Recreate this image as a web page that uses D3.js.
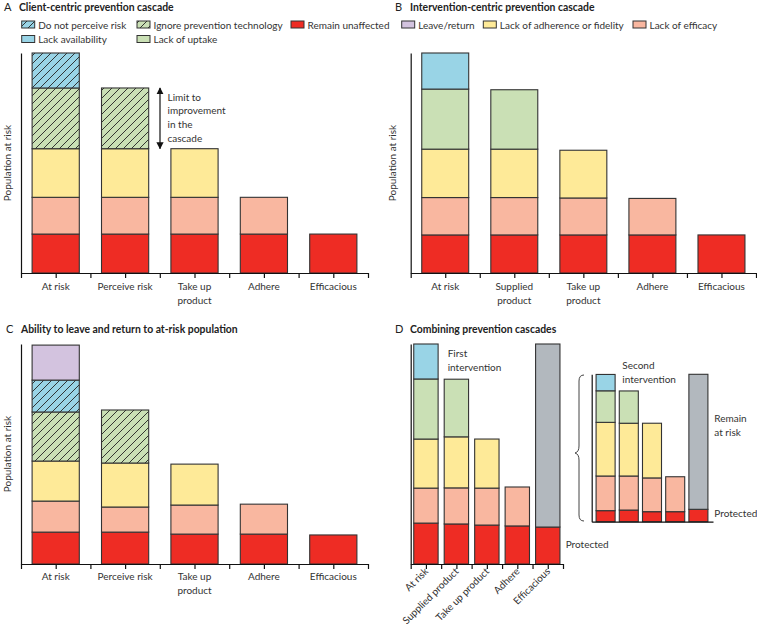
<!DOCTYPE html>
<html>
<head>
<meta charset="utf-8">
<script src="https://cdn.jsdelivr.net/npm/d3@7"></script>
<style>
body { margin: 0; background: #fff; }
svg { font-family: Lato, "Open Sans", sans-serif; }
</style>
</head>
<body>
<div id="chart"></div>
<script>
// categories
var catsA = ["At risk", "Perceive risk", "Take up\nproduct", "Adhere", "Efficacious"]
var catsB = ["At risk", "Supplied\nproduct", "Take up\nproduct", "Adhere", "Efficacious"]
var catsD = ["At risk", "Supplied product", "Take up product", "Adhere", "Efficacious"]

// legend
var legendRow1 = ["Do not perceive risk", "Ignore prevention technology", "Remain unaffected", "Leave/return", "Lack of adherence or fidelity", "Lack of efficacy"]
var legendKeys1 = ["perceive", "ignore", "unaffected", "leave", "adherence", "efficacy"]
var legendRow2 = ["Lack availability", "Lack of uptake"]
var legendKeys2 = ["availability", "uptake"]

// A: client-centric (bottom to top)
var aUnaffected = [17.7, 17.7, 17.7, 17.7, 17.7]
var aEfficacy   = [16.7, 16.7, 16.7, 16.7, 0]
var aAdherence  = [22.1, 22.1, 22.1, 0, 0]
var aIgnore     = [27.6, 27.6, 0, 0, 0]
var aPerceive   = [15.9, 0, 0, 0, 0]

// B: intervention-centric
var bUnaffected   = [17.3, 17.3, 17.3, 17.3, 17.3]
var bEfficacy     = [17.0, 17.0, 16.8, 16.6, 0]
var bAdherence    = [22.0, 22.0, 21.7, 0, 0]
var bUptake       = [27.3, 27.0, 0, 0, 0]
var bAvailability = [16.4, 0, 0, 0, 0]

// C: leave and return
var cUnaffected = [14.5, 14.5, 13.6, 13.6, 13.2]
var cEfficacy   = [14.1, 11.4, 13.2, 13.6, 0]
var cAdherence  = [18.2, 20.0, 18.6, 0, 0]
var cIgnore     = [22.3, 24.1, 0, 0, 0]
var cPerceive   = [14.5, 0, 0, 0, 0]
var cLeave      = [15.9, 0, 0, 0, 0]

// D: first intervention
var dUnaffected   = [18.6, 18.2, 17.7, 17.3, 16.8]
var dEfficacy     = [15.9, 16.4, 16.8, 17.7, 0]
var dAdherence    = [22.3, 23.2, 22.3, 0, 0]
var dUptake       = [27.3, 26.2, 0, 0, 0]
var dAvailability = [15.9, 0, 0, 0, 0]
var dRemain       = [0, 0, 0, 0, 83.2]

// D: second intervention (inset)
var eUnaffected   = [7.5, 7.9, 6.8, 6.8, 8.4]
var eEfficacy     = [23.5, 23.1, 22.9, 23.7, 0]
var eAdherence    = [36.4, 35.8, 37.1, 0, 0]
var eUptake       = [21.4, 21.9, 0, 0, 0]
var eAvailability = [11.1, 0, 0, 0, 0]
var eRemain       = [0, 0, 0, 0, 91.6]

var ink = "#333"
var fills = {
    unaffected: "#ee2c24",
    efficacy: "#f9b7a0",
    adherence: "#feea98",
    uptake: "#cae0b5",
    availability: "#99d4e6",
    ignore: "url(#hatchGreen)",
    perceive: "url(#hatchBlue)",
    leave: "#d3c3df",
    remain: "#b2b8be"
}

var svg = d3.select("#chart")
    .append("svg")
        .attr("width", 757)
        .attr("height", 629)

// hatch patterns
var defs = svg.append("defs")
function hatch(id, color) {
    var p = defs.append("pattern")
        .attr("id", id)
        .attr("patternUnits", "userSpaceOnUse")
        .attr("width", 8)
        .attr("height", 8)
    p.append("rect").attr("width", 8).attr("height", 8).attr("fill", color)
    p.append("path")
        .attr("d", "M-2,2 L2,-2 M0,8 L8,0 M6,10 L10,6")
        .attr("stroke", "#222")
        .attr("stroke-width", 0.9)
}
hatch("hatchGreen", "#cae0b5")
hatch("hatchBlue", "#99d4e6")

// stacked bars
function bars(o) {
    var x = d3.scaleBand()
        .domain(o.cats)
        .range(o.xr)
        .paddingInner(o.pad)
        .paddingOuter(o.pad / 2)
    var y = d3.scaleLinear()
        .domain([0, 100])
        .range(o.yr)
    var keys = Object.keys(o.series)
    var rows = o.cats.map(function(c, i) {
        var r = { cat: c }
        keys.forEach(function(k) { r[k] = o.series[k][i] })
        return r
    })
    var layers = d3.stack().keys(keys)(rows)
    var g = svg.append("g")
    layers.forEach(function(layer) {
        g.selectAll(null)
            .data(layer.filter(function(d) { return d[1] - d[0] > 0 }))
            .enter()
            .append("rect")
                .attr("x", function(d) { return x(d.data.cat) })
                .attr("y", function(d) { return y(d[1]) })
                .attr("width", x.bandwidth())
                .attr("height", function(d) { return y(d[0]) - y(d[1]) })
                .attr("fill", fills[layer.key])
                .attr("stroke", ink)
                .attr("stroke-width", 1.1)
    })
    return { x: x, y: y }
}

// axes: y line, x line with ticks at band edges
function axes(o, ticks) {
    var yAx = d3.axisLeft(d3.scaleLinear().range(o.yr)).tickValues([]).tickSizeOuter(0)
    svg.append("g")
        .attr("transform", "translate(" + o.axX[0] + ",0)")
        .call(yAx)
    var xb = d3.scaleLinear().domain([0, 5]).range(o.axX)
    var xAx = d3.axisBottom(xb).tickFormat("").tickSizeOuter(0).tickSizeInner(5)
    if (!ticks) xAx.tickValues([])
    svg.append("g")
        .attr("transform", "translate(0," + o.yr[0] + ")")
        .call(xAx)
    svg.selectAll(".domain, .tick line").attr("stroke", "#111").attr("stroke-width", 1.2)
}

function tickLabels(x, yBase) {
    x.domain().forEach(function(c) {
        var t = svg.append("text")
            .attr("x", x(c) + x.bandwidth() / 2)
            .attr("y", yBase)
            .attr("text-anchor", "middle")
            .attr("font-size", "10px")
            .attr("fill", ink)
        c.split("\n").forEach(function(line, i) {
            t.append("tspan")
                .attr("x", x(c) + x.bandwidth() / 2)
                .attr("dy", i == 0 ? 0 : 13.7)
                .text(line)
        })
    })
}

function yLabel(xPos, yMid) {
    svg.append("text")
        .attr("transform", "rotate(-90)")
        .attr("x", -yMid)
        .attr("y", xPos)
        .attr("text-anchor", "middle")
        .attr("font-size", "10px")
        .attr("fill", ink)
        .text("Population at risk")
}

function title(letter, text, xL, xT, yB) {
    svg.append("text").attr("x", xL).attr("y", yB).attr("font-size", "11px").attr("fill", "#222").text(letter)
    svg.append("text").attr("x", xT).attr("y", yB).attr("font-size", "10.4px").attr("font-weight", "bold").attr("fill", "#222").text(text)
}

function lines(arr, xPos, yB) {
    var t = svg.append("text").attr("font-size", "10px").attr("fill", ink)
    arr.forEach(function(s, i) {
        t.append("tspan").attr("x", xPos).attr("y", yB + i * 13.7).text(s)
    })
}

// titles
title("A", "Client-centric prevention cascade", 4, 19, 11)
title("B", "Intervention-centric prevention cascade", 395, 410, 11)
title("C", "Ability to leave and return to at-risk population", 6, 21, 332.5)
title("D", "Combining prevention cascades", 395, 410, 332.5)

// legend
var legendX1 = [21.7, 137, 291, 401.7, 483.3, 633]
var legendX2 = [21.7, 137]
function legendItem(xPos, yTop, key, label) {
    svg.append("rect")
        .attr("x", xPos).attr("y", yTop).attr("width", 13).attr("height", 7)
        .attr("fill", fills[key]).attr("stroke", ink).attr("stroke-width", 1)
    svg.append("text")
        .attr("x", xPos + 16.5).attr("y", yTop + 7.5)
        .attr("font-size", "10px").attr("fill", ink)
        .text(label)
}
legendRow1.forEach(function(l, i) { legendItem(legendX1[i], 21, legendKeys1[i], l) })
legendRow2.forEach(function(l, i) { legendItem(legendX2[i], 35.5, legendKeys2[i], l) })

// panel A
var optA = { cats: catsA, xr: [21, 368], axX: [21, 368], yr: [273, 53], pad: 0.32,
    series: { unaffected: aUnaffected, efficacy: aEfficacy, adherence: aAdherence, ignore: aIgnore, perceive: aPerceive } }
var pA = bars(optA)
axes(optA, true)
tickLabels(pA.x, 290)
yLabel(10.5, 163)

// limit arrow
svg.append("defs").append("marker")
    .attr("id", "head").attr("viewBox", "0 0 10 10").attr("refX", 9).attr("refY", 5)
    .attr("markerWidth", 6).attr("markerHeight", 6).attr("orient", "auto-start-reverse")
    .append("path").attr("d", "M0,0 L10,5 L0,10 Z").attr("fill", "#111")
svg.append("line")
    .attr("x1", pA.x.range()[0] + 139).attr("x2", pA.x.range()[0] + 139)
    .attr("y1", pA.y(aUnaffected[1] + aEfficacy[1] + aAdherence[1] + aIgnore[1]))
    .attr("y2", pA.y(aUnaffected[1] + aEfficacy[1] + aAdherence[1]))
    .attr("stroke", "#111").attr("stroke-width", 1.2)
    .attr("marker-start", "url(#head)").attr("marker-end", "url(#head)")
lines(["Limit to", "improvement", "in the", "cascade"], 167.5, 100.7)

// panel B
var optB = { cats: catsB, xr: [410.7, 756], axX: [410.7, 756], yr: [273, 53], pad: 0.32,
    series: { unaffected: bUnaffected, efficacy: bEfficacy, adherence: bAdherence, uptake: bUptake, availability: bAvailability } }
var pB = bars(optB)
axes(optB, true)
tickLabels(pB.x, 290)
yLabel(396, 163)

// panel C
var optC = { cats: catsA, xr: [21, 368], axX: [21, 368], yr: [564, 344], pad: 0.32,
    series: { unaffected: cUnaffected, efficacy: cEfficacy, adherence: cAdherence, ignore: cIgnore, perceive: cPerceive, leave: cLeave } }
var pC = bars(optC)
axes(optC, true)
tickLabels(pC.x, 580)
yLabel(10.5, 454)

// panel D main
var optD = { cats: catsD, xr: [410.7, 563], axX: [410.7, 563], yr: [564, 344], pad: 0.2,
    series: { unaffected: dUnaffected, efficacy: dEfficacy, adherence: dAdherence, uptake: dUptake, availability: dAvailability, remain: dRemain } }
var pD = bars(optD)
axes(optD, true)
catsD.forEach(function(c) {
    svg.append("text")
        .attr("transform", "translate(" + (pD.x(c) + pD.x.bandwidth() / 2 + 3) + ",572) rotate(-45)")
        .attr("text-anchor", "end")
        .attr("font-size", "10px")
        .attr("fill", ink)
        .text(c)
})
lines(["First", "intervention"], 447.7, 357.3)
lines(["Protected"], 565.7, 548.3)

// panel D inset
var optE = { cats: catsD, xr: [594, 710], axX: [591.7, 713], yr: [521.7, 374.3], pad: 0.18,
    series: { unaffected: eUnaffected, efficacy: eEfficacy, adherence: eAdherence, uptake: eUptake, availability: eAvailability, remain: eRemain } }
bars(optE)
axes(optE, false)
lines(["Second", "intervention"], 622.3, 369)
lines(["Remain", "at risk"], 714.3, 422.3)
lines(["Protected"], 714.3, 516.7)

// brace
svg.append("path")
    .attr("d", "M584,375 Q579,375 579,381 L579,446 Q579,452 575,453 Q579,454 579,460 L579,515 Q579,521 584,521")
    .attr("fill", "none")
    .attr("stroke", "#444")
    .attr("stroke-width", 1)
</script>
</body>
</html>
